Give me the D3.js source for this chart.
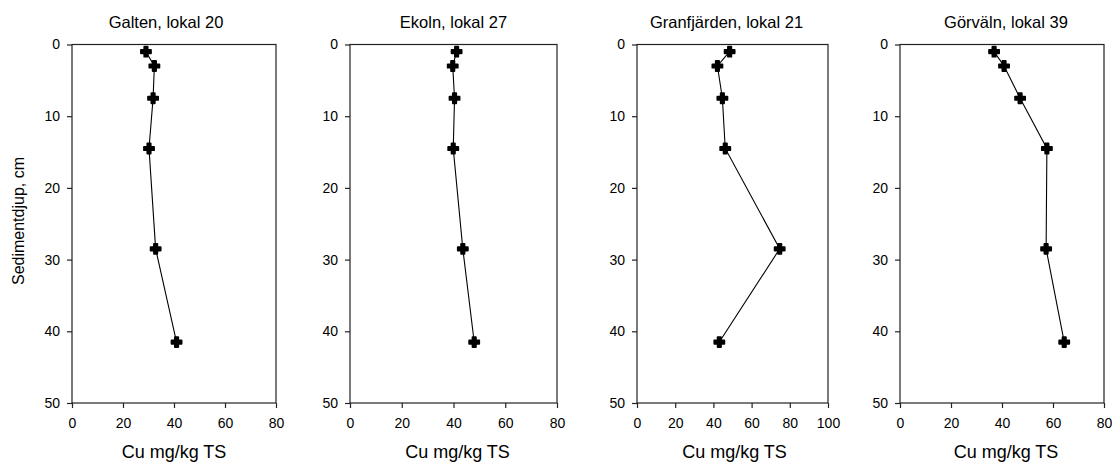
<!DOCTYPE html>
<html><head><meta charset="utf-8">
<script src="https://cdn.jsdelivr.net/npm/d3@7"></script>
<style>body{margin:0;background:#fff}svg{display:block}text{font-family:Arial,"Liberation Sans",sans-serif;fill:#000}</style>
</head><body><svg id="c" width="1112" height="464"></svg>
<script>
const depths = [1, 3, 7.5, 14.5, 28.5, 41.5];
const titles = ["Galten, lokal 20", "Ekoln, lokal 27", "Granfjärden, lokal 21", "Görväln, lokal 39"];
const galten = [29, 32.3, 31.8, 30.2, 32.8, 41];
const ekoln = [41.2, 39.7, 40.4, 39.9, 43.6, 48];
const granfjarden = [48.5, 42.1, 44.7, 46.2, 74.7, 43.1];
const gorvaln = [36.9, 40.8, 47.1, 57.6, 57.3, 64.4];
const xMax = [80, 80, 100, 80];
const xTicks = [[0,20,40,60,80],[0,20,40,60,80],[0,20,40,60,80,100],[0,20,40,60,80]];
const yTicks = [0,10,20,30,40,50];
const xLabel = "Cu mg/kg TS";
const yLabel = "Sedimentdjup, cm";
const series = [galten, ekoln, granfjarden, gorvaln];

(function(){
const panels = [[72,276],[350,557],[637,828],[900,1104]];
const titleShift = [-8, 0, -6, 4];
const labelShift = [0, 4, 2, 4];
const plotTop = 44.5, plotBottom = 403;
const svg = d3.select("#c");
const y = d3.scaleLinear().domain([0,50]).range([plotTop,plotBottom]);

series.forEach((vals,i)=>{
  const [l,r] = panels[i];
  const x = d3.scaleLinear().domain([0,xMax[i]]).range([l,r]);
  const g = svg.append("g");
  g.append("rect").attr("x",l).attr("y",plotTop).attr("width",r-l).attr("height",plotBottom-plotTop)
    .attr("fill","none").attr("stroke","#222").attr("stroke-width",1.2);
  const xa = g.append("g").attr("transform",`translate(0,${plotBottom})`)
    .call(d3.axisBottom(x).tickValues(xTicks[i]).tickSize(5).tickPadding(10));
  const ya = g.append("g").attr("transform",`translate(${l},0)`)
    .call(d3.axisLeft(y).tickValues(yTicks).tickSize(5).tickPadding(7));
  [xa,ya].forEach(a=>{
    a.select(".domain").remove();
    a.selectAll("line").attr("stroke","#222").attr("stroke-width",1.2);
    a.selectAll("text").style("font-size","14px").style("font-family","Arial, 'Liberation Sans', sans-serif").attr("fill","#000");
  });
  g.append("text").attr("x",(l+r)/2+titleShift[i]).attr("y",28).attr("text-anchor","middle")
    .style("font-size","16.5px").text(titles[i]);
  g.append("text").attr("x",(l+r)/2+labelShift[i]).attr("y",458).attr("text-anchor","middle")
    .style("font-size","18px").text(xLabel);
  const pts = vals.map((v,k)=>[v,depths[k]]);
  g.append("path").datum(pts).attr("fill","none").attr("stroke","#000").attr("stroke-width",1.1)
    .attr("d", d3.line().x(d=>x(d[0])).y(d=>y(d[1])));
  g.selectAll(".m").data(pts).join("path")
    .attr("transform",d=>`translate(${x(d[0])},${y(d[1])})`)
    .attr("d", d3.symbol().type(d3.symbolCross).size(56))
    .attr("fill","#000").attr("stroke","#000").attr("stroke-width",1.8).attr("stroke-linejoin","round");
});
svg.append("text").attr("transform",`translate(24,221) rotate(-90)`)
  .attr("text-anchor","middle").style("font-size","16px").text(yLabel);
})();
</script></body></html>
